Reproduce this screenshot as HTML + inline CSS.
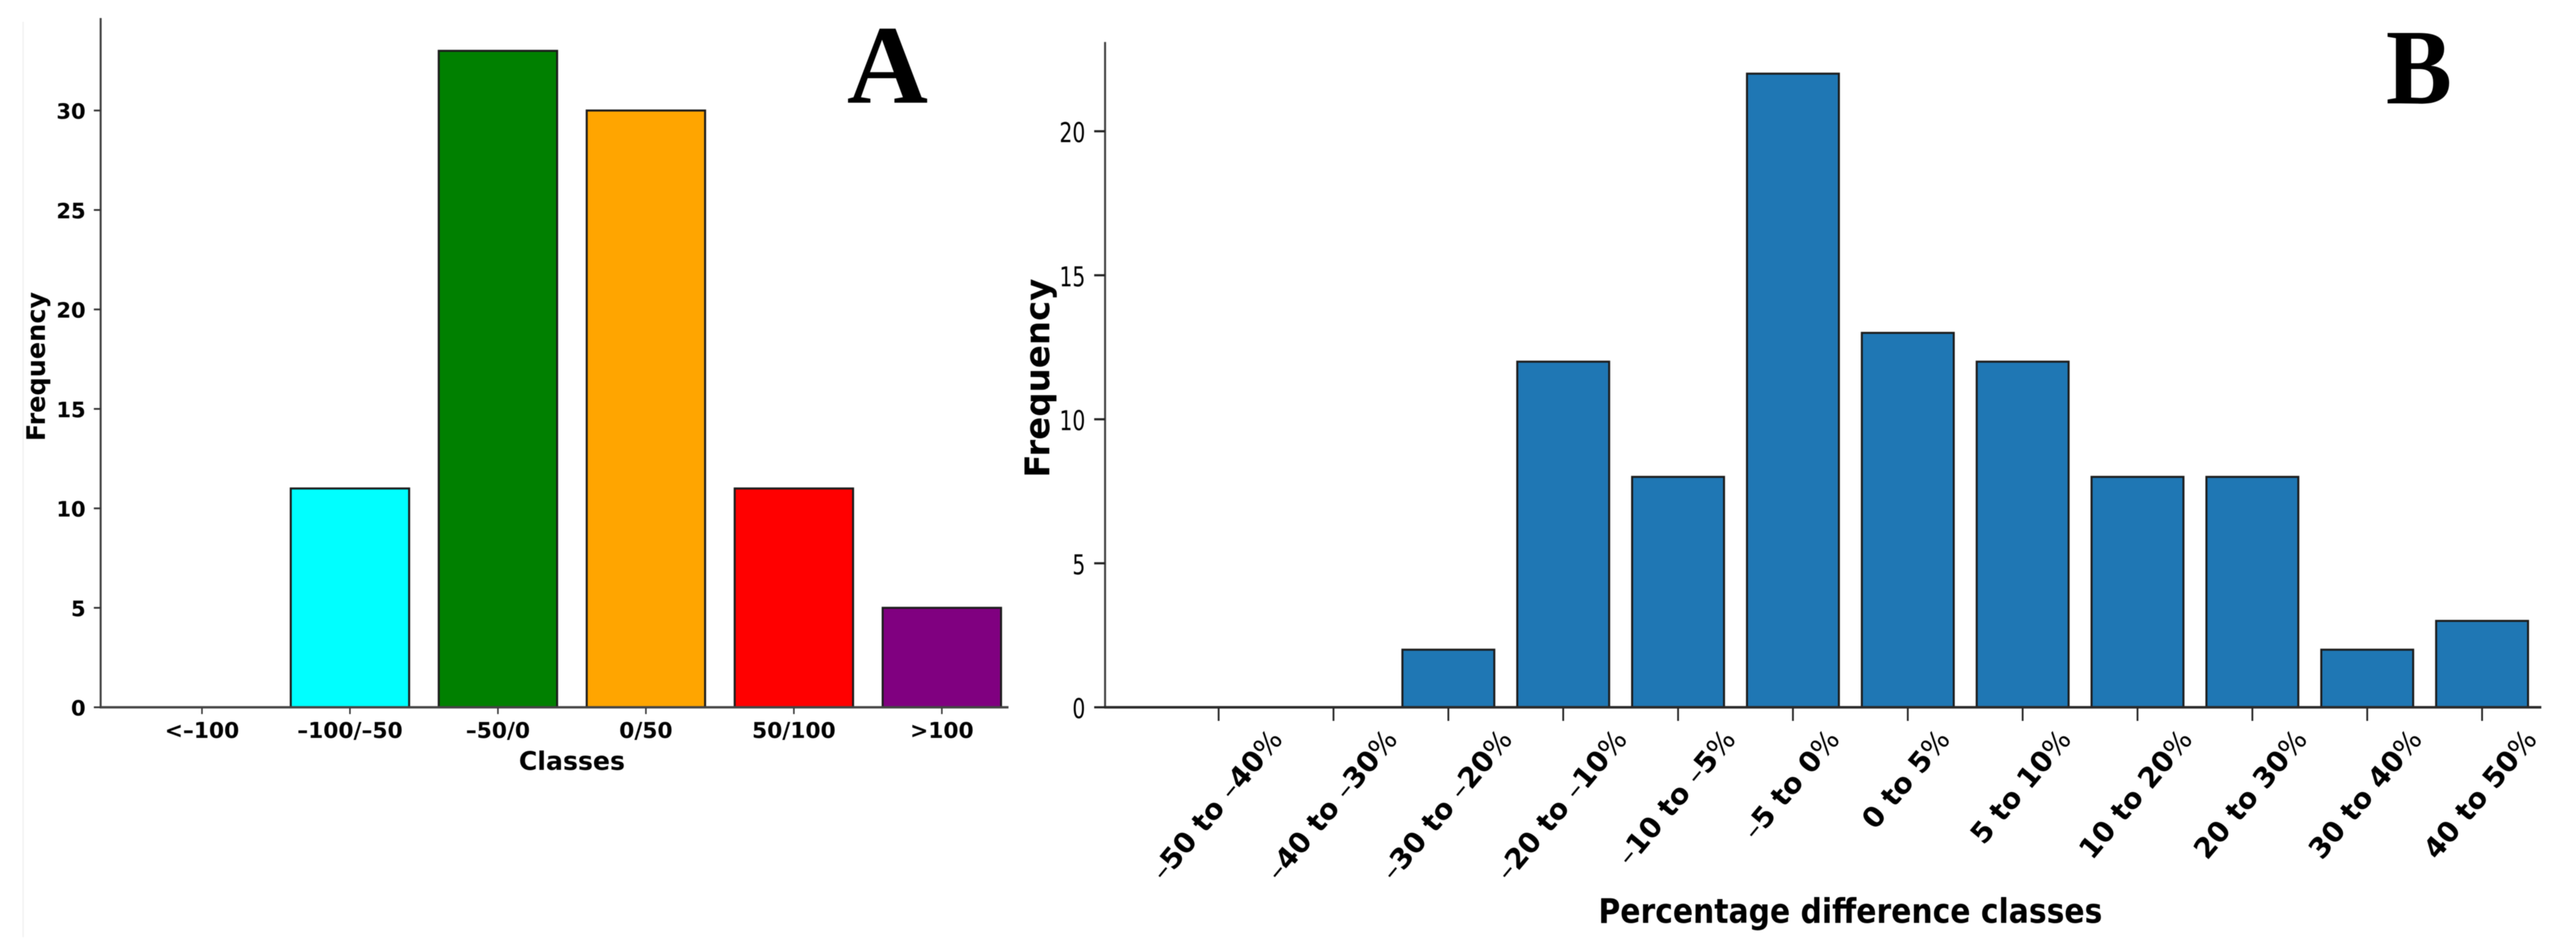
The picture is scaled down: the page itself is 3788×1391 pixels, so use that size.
<!DOCTYPE html>
<html lang="en">
<head>
<meta charset="utf-8">
<title>Frequency histograms A and B</title>
<style>
html,body{margin:0;padding:0;background:#fff;width:3788px;height:1391px;overflow:hidden}
svg{display:block;filter:blur(0.6px)}
text{font-family:"DejaVu Sans","Liberation Sans",sans-serif;fill:#000}
.bold{font-weight:700}
.panel-letter{font-family:"Liberation Serif",serif;font-weight:700}
</style>
</head>
<body>
<svg id="figure" xmlns="http://www.w3.org/2000/svg" width="3788" height="1391" viewBox="0 0 3788 1391">
  <rect x="0" y="0" width="3788" height="1391" fill="#fff"/>
  <line x1="34" y1="32" x2="34" y2="1378" stroke="#eeeeee" stroke-width="1.5"/>
  <g id="panelA"></g>
  <g id="panelB"></g>
  <text class="panel-letter" x="1305" y="151" text-anchor="middle" font-size="165">A</text>
  <text class="panel-letter" transform="translate(3557 152) scale(0.92 1)" text-anchor="middle" font-size="158">B</text>
</svg>
<script>
const classesA = ['<–100', '–100/–50', '–50/0', '0/50', '50/100', '>100'];
const valuesA = [0, 11, 33, 30, 11, 5];
const colorsA = ['#1f77b4', '#00ffff', '#008000', '#ffa500', '#ff0000', '#800080'];
const yTicksA = [0, 5, 10, 15, 20, 25, 30];

const classesB = ['–50 to –40%', '–40 to –30%', '–30 to –20%', '–20 to –10%', '–10 to –5%', '–5 to 0%', '0 to 5%', '5 to 10%', '10 to 20%', '20 to 30%', '30 to 40%', '40 to 50%'];
const valuesB = [0, 0, 2, 12, 8, 22, 13, 12, 8, 8, 2, 3];
const yTicksB = [0, 5, 10, 15, 20];

const NS = 'http://www.w3.org/2000/svg';
const panelA = document.getElementById('panelA');
const panelB = document.getElementById('panelB');

function make(parent, tag) {
  const el = document.createElementNS(NS, tag);
  parent.appendChild(el);
  return el;
}
function setLine(el, x1, y1, x2, y2, color, width) {
  el.setAttribute('x1', x1);
  el.setAttribute('y1', y1);
  el.setAttribute('x2', x2);
  el.setAttribute('y2', y2);
  el.setAttribute('stroke', color);
  el.setAttribute('stroke-width', width);
}
function setBar(el, x, y, w, h, fill) {
  el.setAttribute('x', x);
  el.setAttribute('y', y);
  el.setAttribute('width', w);
  el.setAttribute('height', h);
  el.setAttribute('fill', fill);
  el.setAttribute('stroke', '#1c1c1c');
  el.setAttribute('stroke-width', 3);
}

/* ---------- Panel A ---------- */
const xA = i => 297 + 217.6 * i;
const yA = v => 1040 - 29.25 * v;
const barWidthA = 0.8 * 217.6;

valuesA.forEach((v, i) => {
  const bar = make(panelA, 'rect');
  
  
  setBar(bar, xA(i) - barWidthA / 2, yA(v), barWidthA, yA(0) - yA(v), colorsA[i]);
});

const axisAY = make(panelA, 'line');


setLine(axisAY, 148, yA(34.65), 148, yA(0) + 1.5, '#444', 3);

const axisAX = make(panelA, 'line');


setLine(axisAX, 147, yA(0), 1483, yA(0), '#444', 3.6);

yTicksA.forEach(t => {
  const tick = make(panelA, 'line');
  
  
  setLine(tick, 138, yA(t), 148, yA(t), '#333', 2.6);
  const label = make(panelA, 'text');
  
  
  label.setAttribute('class', 'bold');
  label.setAttribute('x', 126);
  label.setAttribute('y', yA(t) + 12);
  label.setAttribute('text-anchor', 'end');
  label.setAttribute('font-size', 31);
  label.textContent = t;
});

classesA.forEach((c, i) => {
  const tick = make(panelA, 'line');
  
  
  setLine(tick, xA(i), yA(0) + 1, xA(i), yA(0) + 10, '#333', 2.2);
  const label = make(panelA, 'text');
  
  
  label.setAttribute('class', 'bold');
  label.setAttribute('x', xA(i));
  label.setAttribute('y', 1085);
  label.setAttribute('text-anchor', 'middle');
  label.setAttribute('font-size', 32);
  label.textContent = c;
});

const xTitleA = make(panelA, 'text');


xTitleA.setAttribute('class', 'bold');
xTitleA.setAttribute('x', 841);
xTitleA.setAttribute('y', 1132);
xTitleA.setAttribute('text-anchor', 'middle');
xTitleA.setAttribute('font-size', 37);
xTitleA.textContent = 'Classes';

const yTitleA = make(panelA, 'text');


yTitleA.setAttribute('class', 'bold');
yTitleA.setAttribute('transform', 'translate(66 539) rotate(-90)');
yTitleA.setAttribute('text-anchor', 'middle');
yTitleA.setAttribute('font-size', 37.5);
yTitleA.textContent = 'Frequency';

/* ---------- Panel B ---------- */
const xB = i => 1792 + 168.9 * i;
const yB = v => 1040 - 42.35 * v;
const barWidthB = 0.8 * 168.9;

valuesB.forEach((v, i) => {
  const bar = make(panelB, 'rect');
  
  
  setBar(bar, xB(i) - barWidthB / 2, yB(v), barWidthB, yB(0) - yB(v), '#1f77b4');
});

const axisBY = make(panelB, 'line');


setLine(axisBY, 1625, yB(23.1), 1625, yB(0) + 1.5, '#444', 3);

const axisBX = make(panelB, 'line');


setLine(axisBX, 1624, yB(0), 3737, yB(0), '#2a2a2a', 3.8);

yTicksB.forEach(t => {
  const tick = make(panelB, 'line');
  
  
  setLine(tick, 1609, yB(t), 1625, yB(t), '#222', 3.2);
  const label = make(panelB, 'text');
  
  
  label.setAttribute('transform', 'translate(1596 ' + (yB(t) + 16) + ') scale(0.75 1)');
  label.setAttribute('text-anchor', 'end');
  label.setAttribute('font-size', 40);
  label.textContent = t;
});

classesB.forEach((c, i) => {
  const tick = make(panelB, 'line');
  
  
  setLine(tick, xB(i), yB(0) + 1, xB(i), yB(0) + 20, '#222', 2.6);
  const label = make(panelB, 'text');
  
  
  label.setAttribute('class', 'bold');
  label.setAttribute('text-anchor', 'middle');
  label.setAttribute('font-size', 41.5);
  c.split(/([–%])/).filter(Boolean).forEach(part => {
    const span = make(label, 'tspan');
    if (part === '–' || part === '%') span.setAttribute('font-weight', '400');
    span.textContent = part;
  });
  const angle = 50 * Math.PI / 180;
  const len = label.getComputedTextLength();
  const boxH = len * Math.sin(angle) + 41.5 * 0.75 * Math.cos(angle);
  const cy = 1078 + boxH / 2;
  label.setAttribute('transform', 'translate(' + (xB(i) + 8) + ' ' + cy + ') rotate(-50)');
});

const xTitleB = make(panelB, 'text');


xTitleB.setAttribute('class', 'bold');
xTitleB.setAttribute('x', 2350.5);
xTitleB.setAttribute('y', 1357);
xTitleB.setAttribute('font-size', 50);
xTitleB.setAttribute('textLength', 741);
xTitleB.setAttribute('lengthAdjust', 'spacingAndGlyphs');
xTitleB.textContent = 'Percentage difference classes';

const yTitleB = make(panelB, 'text');


yTitleB.setAttribute('class', 'bold');
yTitleB.setAttribute('transform', 'translate(1543 556) rotate(-90)');
yTitleB.setAttribute('text-anchor', 'middle');
yTitleB.setAttribute('font-size', 50);
yTitleB.textContent = 'Frequency';
</script>
</body>
</html>
